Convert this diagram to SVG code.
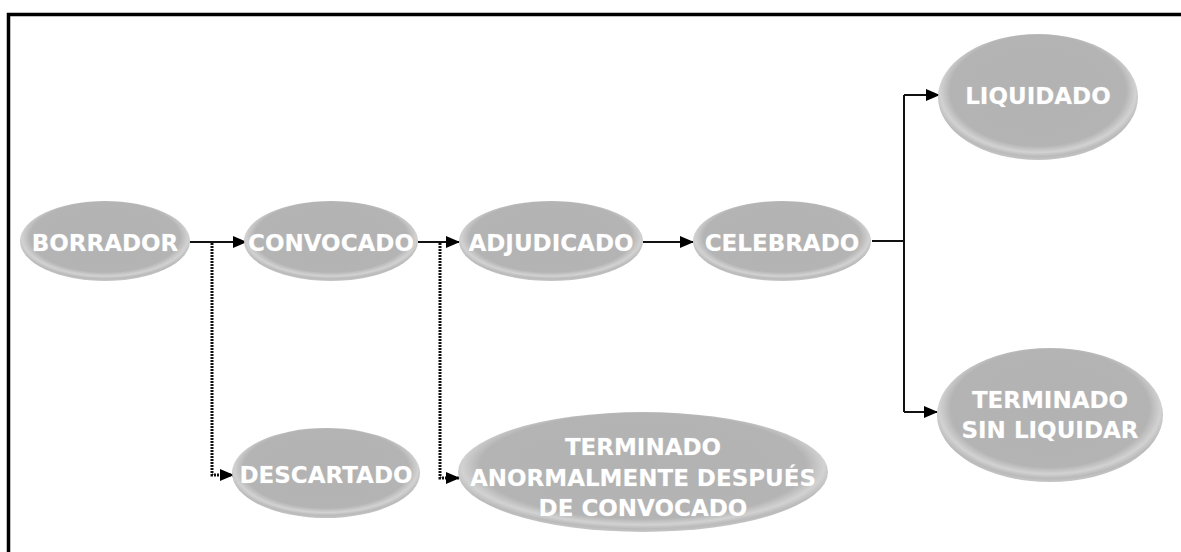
<svg xmlns="http://www.w3.org/2000/svg" width="1181" height="552" viewBox="0 0 1181 552">
<style>
.node ellipse{fill:url(#gloss)}
.node text{font-family:"DejaVu Sans",Verdana,sans-serif;font-weight:bold;font-size:23px;fill:#ffffff;text-anchor:middle;stroke:#c8c8c8;stroke-width:0.6;paint-order:stroke}
.solid{fill:none;stroke:#111;stroke-width:2}
.dot{fill:none;stroke:#111;stroke-width:3;stroke-dasharray:2 1}
</style>
<defs>
<radialGradient id="gloss" cx="50%" cy="45%" r="55%">
<stop offset="0%" stop-color="#b2b2b2"/>
<stop offset="80%" stop-color="#b4b4b4"/>
<stop offset="89%" stop-color="#d2d2d2"/>
<stop offset="95%" stop-color="#bababa"/>
<stop offset="100%" stop-color="#c6c6c6"/>
</radialGradient>
<marker id="arr" markerWidth="14" markerHeight="12" refX="13" refY="6" orient="auto" markerUnits="userSpaceOnUse">
<path d="M0,0 L14,6 L0,12 z" fill="#000"/>
</marker>
</defs>
<rect x="0" y="0" width="1181" height="552" fill="#ffffff"/>
<path d="M8.5,552 V14.5 H1181" fill="none" stroke="#000" stroke-width="3.5"/>
<g id="connectors">
<path class="solid" d="M190,242 H246" marker-end="url(#arr)"/>
<path class="solid" d="M418,242 H459" marker-end="url(#arr)"/>
<path class="solid" d="M643,242 H693" marker-end="url(#arr)"/>
<path class="solid" d="M872,241 H904"/>
<path class="solid" d="M904,95 V412"/>
<path class="solid" d="M904,95 H939" marker-end="url(#arr)"/>
<path class="solid" d="M904,412 H937" marker-end="url(#arr)"/>
<path class="dot" d="M212,243 V475 H233" marker-end="url(#arr)"/>
<path class="dot" d="M440,243 V478 H459" marker-end="url(#arr)"/>
</g>
<g id="borrador" class="node"><ellipse cx="105" cy="241" rx="85" ry="40"/><text x="105" y="251">BORRADOR</text></g>
<g id="convocado" class="node"><ellipse cx="331" cy="241" rx="87" ry="40"/><text x="331" y="251">CONVOCADO</text></g>
<g id="adjudicado" class="node"><ellipse cx="551" cy="241" rx="92" ry="40"/><text x="551" y="251">ADJUDICADO</text></g>
<g id="celebrado" class="node"><ellipse cx="782" cy="241" rx="89" ry="40"/><text x="782" y="251">CELEBRADO</text></g>
<g id="liquidado" class="node"><ellipse cx="1038" cy="97" rx="100" ry="63"/><text x="1038" y="104">LIQUIDADO</text></g>
<g id="terminado-sin-liquidar" class="node"><ellipse cx="1050" cy="415" rx="113" ry="67"/><text x="1050" y="408">TERMINADO</text><text x="1050" y="438">SIN LIQUIDAR</text></g>
<g id="descartado" class="node"><ellipse cx="326" cy="473" rx="94" ry="45"/><text x="326" y="483">DESCARTADO</text></g>
<g id="terminado-anormalmente" class="node"><ellipse cx="643" cy="472" rx="185" ry="60"/><text x="643" y="455">TERMINADO</text><text x="643" y="486">ANORMALMENTE DESPUÉS</text><text x="643" y="516">DE CONVOCADO</text></g>
</svg>
